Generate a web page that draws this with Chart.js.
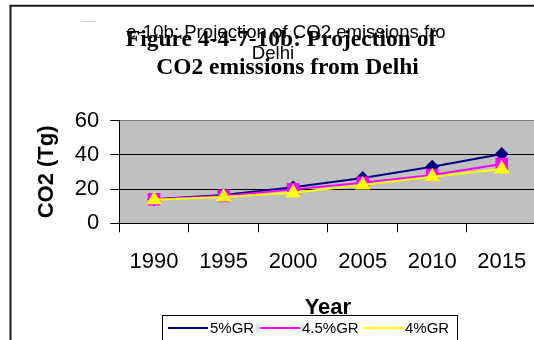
<!DOCTYPE html>
<html>
<head>
<meta charset="utf-8">
<script src="https://cdn.jsdelivr.net/npm/chart.js@4/dist/chart.umd.min.js"></script>
<style>
  html, body { margin: 0; padding: 0; background: #fff; overflow: hidden; width: 534px; height: 340px; }
  #wrap { width: 600px; height: 340px; }
  canvas { display: block; }
</style>
</head>
<body>
<div id="wrap"><canvas id="c" width="546" height="340"></canvas></div>
<script>
const years = ['1990', '1995', '2000', '2005', '2010', '2015'];
const gr5 = [14, 16.5, 21, 26.5, 33, 40.5];
const gr45 = [14, 16, 19.8, 23.7, 28.2, 34.6];
const gr4 = [13.8, 15.3, 17.9, 22.4, 27.2, 31.7];
const seriesNames = ['5%GR', '4.5%GR', '4%GR'];
const yTicks = [0, 20, 40, 60];

const titleSerif = ['Figure 4-4-7-10b: Projection of ', 'CO2 emissions from Delhi'];
const titleSans = ['e-10b: Projection of CO2 emissions fro', 'Delhi'];

const SANS = "'Liberation Sans', Arial, sans-serif";
const SERIF = "'Liberation Serif', 'Times New Roman', serif";

const decor = {
  id: 'decor',
  beforeDraw(chart) {
    const ctx = chart.ctx, a = chart.chartArea;
    ctx.save();
    ctx.fillStyle = '#C0C0C0';
    ctx.fillRect(a.left, a.top, a.right - a.left, a.bottom - a.top);
    // outer frame
    ctx.strokeStyle = '#1a1a1a';
    ctx.lineWidth = 2;
    ctx.beginPath();
    ctx.moveTo(10.5, 345);
    ctx.lineTo(10.5, 5.7);
    ctx.lineTo(600, 5.7);
    ctx.stroke();
    // small grey dash
    ctx.fillStyle = '#cfcfcf';
    ctx.fillRect(82, 21, 13, 1);
    ctx.restore();
  },
  afterDraw(chart) {
    const ctx = chart.ctx;
    ctx.save();
    ctx.fillStyle = '#000';
    ctx.textAlign = 'center';
    ctx.textBaseline = 'alphabetic';
    // sans overlay title
    ctx.font = '18.6px ' + SANS;
    ctx.fillText(titleSans[0], 286, 37.7);
    ctx.fillText(titleSans[1], 273, 58.7);
    // serif bold title
    ctx.font = 'bold 23.5px ' + SERIF;
    ctx.fillText(titleSerif[0], 284, 45.7);
    ctx.fillText(titleSerif[1], 287.5, 74.3);

    // legend
    ctx.strokeStyle = '#000';
    ctx.lineWidth = 1;
    ctx.strokeRect(162.5, 315.5, 295, 40);
    const items = [
      {x: 168, text: seriesNames[0], ds: 0},
      {x: 260, text: seriesNames[1], ds: 1},
      {x: 363, text: seriesNames[2], ds: 2}
    ];
    const ly = 328;
    ctx.font = '15px ' + SANS;
    ctx.textAlign = 'left';
    ctx.textBaseline = 'middle';
    items.forEach(it => {
      const d = chart.data.datasets[it.ds];
      ctx.strokeStyle = d.borderColor;
      ctx.lineWidth = 2;
      ctx.beginPath();
      ctx.moveTo(it.x, ly);
      ctx.lineTo(it.x + 40, ly);
      ctx.stroke();
      ctx.fillStyle = d.pointBackgroundColor;
      ctx.strokeStyle = d.pointBorderColor;
      ctx.lineWidth = 1;
      Chart.helpers.drawPoint(ctx, {pointStyle: d.pointStyle, rotation: 0, borderWidth: 1}, it.x + 20, ly);
      ctx.fillStyle = '#000';
      ctx.fillText(it.text, it.x + 42, ly + 1);
    });
    ctx.restore();
  }
};

function config() {
  return {
    type: 'line',
    data: {
      labels: years,
      datasets: [
        { label: seriesNames[0], data: gr5, borderColor: '#000080', backgroundColor: '#000080',
          pointBackgroundColor: '#000080', pointBorderColor: '#000080', pointStyle: 'rectRot',
          pointRadius: 5.5, borderWidth: 2, order: 2 },
        { label: seriesNames[1], data: gr45, borderColor: '#FF00FF', backgroundColor: '#FF00FF',
          pointBackgroundColor: '#FF00FF', pointBorderColor: '#FF00FF', pointStyle: 'rect',
          pointRadius: 7.5, borderWidth: 2, order: 1 },
        { label: seriesNames[2], data: gr4, borderColor: '#FFFF00', backgroundColor: '#FFFF00',
          pointBackgroundColor: '#FFFF00', pointBorderColor: '#FFFF00', pointStyle: 'triangle',
          pointRadius: 7, borderWidth: 2, order: 0 }
      ]
    },
    options: {
      responsive: false,
      animation: false,
      devicePixelRatio: 1,
      layout: { padding: { top: 120.5, left: 0, right: 0, bottom: 0 } },
      plugins: { legend: { display: false }, title: { display: false }, tooltip: { enabled: false } },
      scales: {
        x: {
          offset: true,
          afterFit(s) { s.height = 116.7; s.paddingLeft = 0; s.paddingRight = 0; },
          grid: { display: true, drawOnChartArea: false, offset: true, tickLength: 9, color: '#000', tickColor: '#000' },
          border: { display: true, color: '#000', width: 1 },
          ticks: { color: '#000', font: { family: SANS, size: 22 }, padding: 16, maxRotation: 0, autoSkip: false },
          title: { display: true, text: 'Year', color: '#000', font: { family: SANS, size: 22, weight: 'bold' }, padding: { top: 0, bottom: 18.5 } }
        },
        y: {
          min: 0, max: 60,
          afterFit(s) { s.width = 119.3; s.paddingTop = 0; s.paddingBottom = 0; },
          afterBuildTicks(s) { s.ticks = yTicks.map(v => ({ value: v })); },
          grid: {
            tickLength: 9,
            color: (c) => (c.tick && c.tick.value === 60) ? '#808080' : (c.tick && c.tick.value === 0 ? 'rgba(0,0,0,0)' : '#000'),
            tickColor: '#000'
          },
          border: { display: true, color: '#000', width: 1 },
          ticks: { color: '#000', font: { family: SANS, size: 22 }, padding: 11 },
          title: { display: true, text: 'CO2 (Tg)', color: '#000', font: { family: SANS, size: 22, weight: 'bold' }, padding: { top: 34, bottom: 0 } }
        }
      }
    },
    plugins: [decor]
  };
}

const canvas = document.getElementById('c');
let W = 546;
let chart = new Chart(canvas, config());
for (let i = 0; i < 3; i++) {
  const dx = 536 - chart.chartArea.right;
  if (Math.abs(dx) < 0.3) break;
  chart.destroy();
  W = Math.round((W + dx) * 10) / 10;
  canvas.width = Math.ceil(W);
  canvas.height = 340;
  chart = new Chart(canvas, config());
}
</script>
</body>
</html>
